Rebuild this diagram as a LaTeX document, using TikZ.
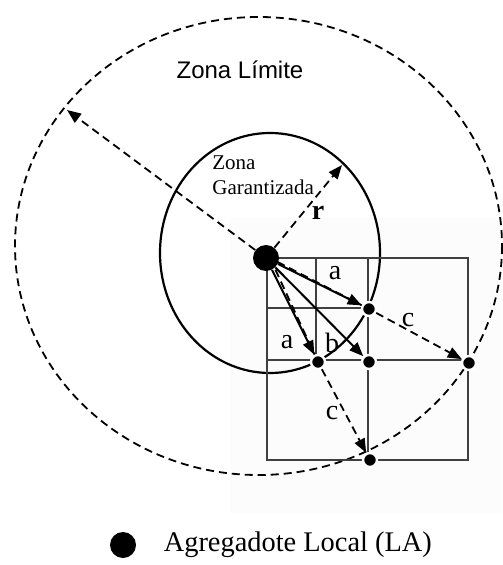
\documentclass[tikz,border=0pt]{standalone}
\usepackage{fontspec}
\setmainfont{Liberation Serif}
\newfontfamily\arialfont{Liberation Sans}
\usepackage{tikz}
\usetikzlibrary{arrows.meta,positioning,calc}

\begin{document}
\begin{tikzpicture}[
      x=0.5pt,y=-0.5pt,>={Triangle[length=7pt,width=5.5pt]},
      agg/.style={circle,fill=black,minimum size=13pt,inner sep=0pt},
      pto/.style={circle,fill=black,draw=white,line width=1.2pt,minimum size=7pt,inner sep=0pt},
      celda/.style={draw=black!75,line width=1.1pt},
      dsh/.style={dash pattern=on 4pt off 2.5pt,line width=0.9pt},
      flecha/.style={line width=1pt},
      lbl/.style={font=\fontsize{14}{16}\selectfont,inner sep=1pt}]
    \useasboundingbox (0,0) rectangle (502,565);
    \fill[black!1] (230,218) rectangle (502,513);
    % zonas
    \draw[dsh] (258.5,246) ellipse [x radius=243.5,y radius=229];
    \draw[line width=1.1pt] (270,253) ellipse [x radius=110,y radius=120];
    % celdas
    \draw[celda] (267,258) rectangle (468,460);
    \draw[celda] (368,258) -- (368,460);
    \draw[celda] (267,360) -- (468,360);
    \draw[celda] (316,258) -- (316,360);
    \draw[celda] (267,308) -- (368,308);
    % agregador y puntos
    \node[agg] (LA) at (266,258) {};
    \node[pto] (D1) at (369,309) {};
    \node[pto] (D2) at (318,362) {};
    \node[pto] (D3) at (369,362) {};
    \node[pto] (D4) at (469,363) {};
    \node[pto] (D5) at (370,460) {};
    \coordinate (limL) at (67,110);
    \coordinate (rTip) at (342,165);
    \draw[dsh,->] (LA) -- (limL);
    \draw[dsh,->] (LA) -- (rTip);
    \draw[dsh] ($(LA)+(4,0)$) -- (D2);
    \draw[dsh] ($(LA)+(0,-2)$) -- (D1);
    \foreach \d in {D1,D2,D3} \draw[flecha,->] (LA) -- (\d);
    \draw[dsh,->] (D1) -- (D4);
    \draw[dsh,->] (D2) -- (D5);
    % etiquetas
    \node[lbl] (la1) at (335,273) {a};
    \node[lbl] (la2) at (287,342) {a};
    \node[lbl] (lb) at (332,343) {b};
    \node[lbl] (lc1) at (408,320) {c};
    \node[lbl] (lc2) at (332,413) {c};
    \node[lbl,font=\fontsize{14}{16}\selectfont\bfseries] (lr) at (318,213) {r};
    \node[font=\arialfont\fontsize{12}{14}\selectfont] (zl) at (240,70) {Zona Límite};
    \node[anchor=west,align=left,inner sep=0pt,font=\fontsize{10.5}{12.5}\selectfont] (zg) at (212,175) {Zona\\Garantizada};
    % leyenda
    \node[agg] (leg) at (123,545) {};
    \node[right=13.5pt of leg,inner sep=0pt,font=\fontsize{14.2}{16}\selectfont] (legtxt) {Agregadote Local (LA)};
  \end{tikzpicture}
\end{document}
